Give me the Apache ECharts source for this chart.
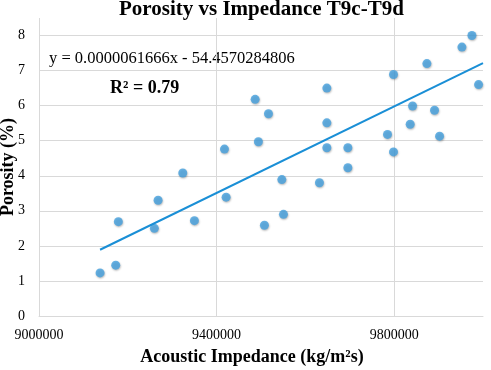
<!DOCTYPE html>
<html lang="en">

<head>
  <meta charset="UTF-8">
  <title>Porosity vs Impedance T9c-T9d</title>
  <style>
    html, body { margin: 0; padding: 0; background: #fff; }
    #main { width: 491px; height: 370px; }
  </style>
</head>

<body>
  <div id="main"></div>
  <script src="https://cdn.jsdelivr.net/npm/echarts@6/dist/echarts.min.js"></script>
  <script>
    // acoustic impedance (kg/m²s) and porosity (%) of each sample
    const impedance = [
      9137500, 9172800, 9178700, 9259800, 9268200, 9323800, 9350000, 9417700,
      9421400, 9486800, 9494100, 9507700, 9516800, 9546900, 9550600, 9631600,
      9648300, 9648300, 9648300, 9695600, 9695600, 9784900, 9798400, 9798400,
      9836000, 9841300, 9873600, 9890800, 9902200, 9952500, 9975000, 9990000
    ];
    const porosity = [
      1.23, 1.45, 2.69, 2.50, 3.30, 4.08, 2.72, 4.76,
      3.39, 6.18, 4.97, 2.59, 5.77, 3.89, 2.90, 3.80,
      6.50, 5.51, 4.80, 4.80, 4.23, 5.18, 6.89, 4.68,
      5.47, 5.99, 7.20, 5.87, 5.13, 7.67, 8.00, 6.60
    ];
    // linear trendline end points
    const trendX = [9137500, 10000000];
    const trendY = [1.89, 7.21];
    const yTicks = [0, 1, 2, 3, 4, 5, 6, 7, 8];

    const points = impedance.map((x, i) => [x, porosity[i]]);
    const trend = trendX.map((x, i) => [x, trendY[i]]);

    const serif = '"Liberation Serif", "DejaVu Serif", serif';
    const grey = '#d9d9d9';

    const myChart = echarts.init(document.getElementById('main'));
    const option = {
      animation: false,
      textStyle: { fontFamily: serif },
      title: {
        text: 'Porosity vs Impedance T9c-T9d',
        left: 114,
        top: -6,
        textStyle: { fontFamily: serif, fontWeight: 'bold', fontSize: 21, color: '#000' }
      },
      grid: { left: 39, right: 8, top: 18, bottom: 54, outerBoundsMode: 'none' },
      xAxis: {
        type: 'value',
        min: 9000000,
        max: 10000000,
        interval: 400000,
        name: 'Acoustic Impedance (kg/m²s)',
        nameLocation: 'middle',
        nameGap: 32,
        nameMoveOverlap: false,
        nameTextStyle: {
          fontFamily: serif, fontWeight: 'bold', fontSize: 18, color: '#000',
          padding: [0, 18, 0, 0]
        },
        axisLine: { show: true, lineStyle: { color: grey } },
        axisTick: { show: false },
        axisLabel: {
          fontFamily: serif, fontSize: 14, color: '#000', margin: 12, showMaxLabel: false,
          formatter: v => String(v)
        },
        splitLine: { show: true, showMaxLine: false, lineStyle: { color: grey, width: 1 } }
      },
      yAxis: {
        type: 'value',
        min: 0,
        max: 8.5,
        interval: 1,
        name: 'Porosity (%)',
        nameLocation: 'middle',
        nameGap: 22,
        nameMoveOverlap: false,
        nameTextStyle: { fontFamily: serif, fontWeight: 'bold', fontSize: 18, color: '#000' },
        axisLine: { show: false },
        axisTick: { show: false },
        axisLabel: {
          fontFamily: serif, fontSize: 14, color: '#000', margin: 14, showMaxLabel: false,
          formatter: v => (yTicks.includes(v) ? String(v) : '')
        },
        splitLine: { show: true, showMaxLine: false, lineStyle: { color: grey, width: 1 } }
      },
      graphic: [
        {
          type: 'text', left: 49, top: 50,
          style: { text: 'y = 0.0000061666x - 54.4570284806', font: '16.5px ' + serif, fill: '#000' }
        },
        {
          type: 'text', left: 110, top: 79,
          style: { text: 'R² = 0.79', font: 'bold 18px ' + serif, fill: '#000' }
        }
      ],
      series: [
        {
          type: 'line',
          data: trend,
          symbol: 'none',
          lineStyle: { color: '#1a8fd6', width: 2 },
          z: 3
        },
        {
          type: 'scatter',
          data: points,
          symbolSize: 9,
          itemStyle: {
            color: '#43a0de',
            shadowColor: 'rgba(0,0,0,0.35)',
            shadowBlur: 2,
            shadowOffsetX: 0.5,
            shadowOffsetY: 1
          },
          z: 2
        }
      ]
    };
    myChart.setOption(option);
  </script>
</body>

</html>
